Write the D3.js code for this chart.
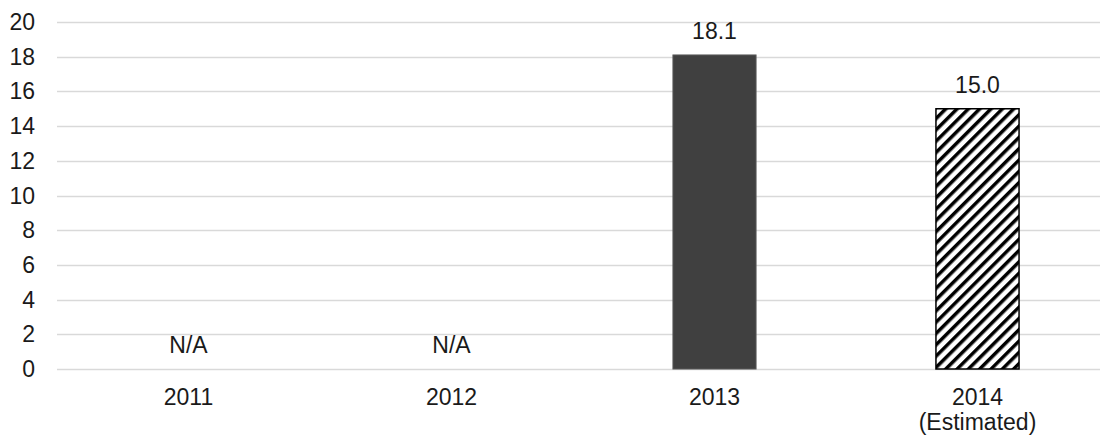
<!DOCTYPE html>
<html>
<head>
<meta charset="utf-8">
<script src="https://cdn.jsdelivr.net/npm/d3@7"></script>
<style>
  html, body { margin: 0; padding: 0; background: #fff; }
  svg text { font-family: "Liberation Sans", Arial, sans-serif; fill: #1a1a1a; }
</style>
</head>
<body>
<div id="chart"></div>
<script>
// chart data
var years = ["2011", "2012", "2013", "2014"];
var subLabels = ["", "", "", "(Estimated)"];
var values = [null, null, 18.1, 15.0];
var estimated = [false, false, false, true];
var yTicks = [0, 2, 4, 6, 8, 10, 12, 14, 16, 18, 20];

var width = 1100, height = 436;

var svg = d3.select("#chart").append("svg")
  .attr("width", width)
  .attr("height", height);

var x = d3.scaleBand()
  .domain(years)
  .range([57, 1109])
  .paddingInner(0.684)
  .paddingOuter(0.342);

var y = d3.scaleLinear().domain([0, 20]).range([369, 22]);

// hatch pattern for the estimated bar
var defs = svg.append("defs");
var pat = defs.append("pattern")
  .attr("id", "hatch")
  .attr("patternUnits", "userSpaceOnUse")
  .attr("width", 8)
  .attr("height", 8)
  .attr("patternTransform", "rotate(45)");
pat.append("rect").attr("width", 8).attr("height", 8).attr("fill", "#fff");
pat.append("line")
  .attr("x1", 0).attr("y1", 0).attr("x2", 0).attr("y2", 8)
  .attr("stroke", "#000")
  .attr("stroke-width", 7);

// gridlines
svg.append("g")
  .selectAll("line")
  .data(yTicks)
  .join("line")
  .attr("x1", 57)
  .attr("x2", width)
  .attr("y1", function (d) { return Math.round(y(d)) + 0.5; })
  .attr("y2", function (d) { return Math.round(y(d)) + 0.5; })
  .attr("stroke", "#d9d9d9")
  .attr("stroke-width", 1.5);

// y tick labels
svg.append("g")
  .selectAll("text")
  .data(yTicks)
  .join("text")
  .attr("x", 35)
  .attr("y", function (d) { return y(d); })
  .attr("dy", "0.35em")
  .attr("text-anchor", "end")
  .style("font-size", "23px")
  .text(function (d) { return d; });

var rows = years.map(function (yr, i) {
  return { year: yr, sub: subLabels[i], value: values[i], est: estimated[i] };
});
var withVal = rows.filter(function (d) { return d.value != null; });

// bars
svg.append("g")
  .selectAll("rect")
  .data(withVal)
  .join("rect")
  .attr("x", function (d) { return x(d.year); })
  .attr("y", function (d) { return y(d.value); })
  .attr("width", x.bandwidth())
  .attr("height", function (d) { return y(0) - y(d.value); })
  .attr("fill", function (d) { return d.est ? "url(#hatch)" : "#404040"; })
  .attr("stroke", function (d) { return d.est ? "#000" : "#595959"; })
  .attr("stroke-width", function (d) { return d.est ? 1.5 : 1; });

// value labels (N/A where missing)
svg.append("g")
  .selectAll("text")
  .data(rows)
  .join("text")
  .attr("x", function (d) { return x(d.year) + x.bandwidth() / 2; })
  .attr("y", function (d) { return (d.value == null ? y(0) : y(d.value)) - 16; })
  .attr("text-anchor", "middle")
  .style("font-size", "23px")
  .text(function (d) { return d.value == null ? "N/A" : d.value.toFixed(1); });

// category labels
var cat = svg.append("g")
  .selectAll("text")
  .data(rows)
  .join("text")
  .attr("x", function (d) { return x(d.year) + x.bandwidth() / 2; })
  .attr("y", 405)
  .attr("text-anchor", "middle")
  .style("font-size", "23px");
cat.append("tspan").text(function (d) { return d.year; });
cat.filter(function (d) { return d.sub; })
  .append("tspan")
  .attr("x", function (d) { return x(d.year) + x.bandwidth() / 2; })
  .attr("dy", 25)
  .text(function (d) { return d.sub; });
</script>
</body>
</html>
